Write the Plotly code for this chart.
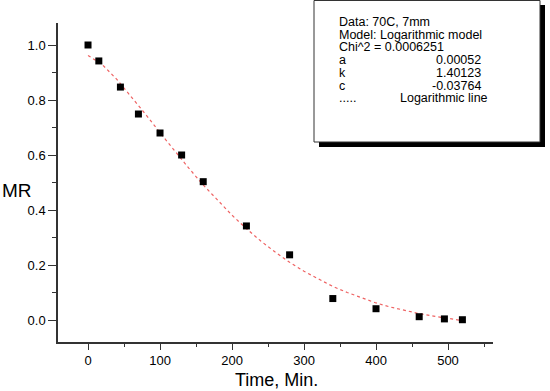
import plotly.graph_objects as go

# Data
time_min = [0, 15, 45, 70, 100, 130, 160, 220, 280, 340, 400, 460, 495, 520]
mr_values = [1.0, 0.942, 0.847, 0.749, 0.68, 0.60, 0.503, 0.342, 0.237, 0.078, 0.041, 0.012, 0.004, 0.001]

fit_time = [0, 20, 40, 60, 80, 100, 120, 140, 160, 180, 200, 220, 240, 260, 280,
            300, 320, 340, 360, 380, 400, 420, 440, 460, 480, 500, 520]
fit_mr = [0.962, 0.928, 0.875, 0.813, 0.748, 0.681, 0.615, 0.552, 0.491, 0.434, 0.381,
          0.332, 0.287, 0.247, 0.210, 0.177, 0.148, 0.122, 0.100, 0.080, 0.062, 0.047,
          0.034, 0.023, 0.014, 0.005, -0.002]

x_ticks = [0, 100, 200, 300, 400, 500]
y_ticks = [0.0, 0.2, 0.4, 0.6, 0.8, 1.0]

legend_left = ["Data: 70C, 7mm", "Model: Logarithmic model", "Chi^2 = 0.0006251", "a", "k", "c", "....."]
legend_right = ["", "", "", "0.00052", "1.40123", "-0.03764", "Logarithmic line"]

W, H = 550, 391
L, R, T, B = 58, 57, 23, 49
PW, PH = W - L - R, H - T - B

def px(x):
    return (x - L) / PW

def py(y):
    return (H - B - y) / PH

fig = go.Figure()
fig.add_trace(go.Scatter(x=fit_time, y=fit_mr, mode="lines",
                         line=dict(color="rgba(235,70,70,0.85)", width=1.2, dash="dot"),
                         showlegend=False, hoverinfo="skip"))
fig.add_trace(go.Scatter(x=time_min, y=mr_values, mode="markers",
                         marker=dict(symbol="square", size=7, color="black"),
                         showlegend=False))

axis_common = dict(showgrid=False, zeroline=False, showline=True, linecolor="#333333",
                   linewidth=1.5, ticks="outside", tickcolor="#333333", tickwidth=1.2,
                   tickfont=dict(family="Liberation Sans, Arial", size=13, color="black"),
                   mirror=False, automargin=False)

fig.update_xaxes(range=[-41.7, 562.5], tickvals=x_ticks, ticklen=6,
                 minor=dict(dtick=50, tick0=0, ticklen=3, ticks="outside", tickcolor="#333333", tickwidth=1.2),
                 **axis_common)
fig.update_yaxes(range=[-0.08, 1.08], tickvals=y_ticks, ticktext=["%.1f" % v for v in y_ticks],
                 ticklen=8,
                 minor=dict(dtick=0.1, tick0=0, ticklen=4, ticks="outside", tickcolor="#333333", tickwidth=1.2),
                 **axis_common)

shapes = []
# shadow
shapes.append(dict(type="rect", xref="paper", yref="paper",
                   x0=px(319), x1=px(545), y0=py(5), y1=py(147),
                   fillcolor="black", line=dict(width=0), layer="above"))
# box
shapes.append(dict(type="rect", xref="paper", yref="paper",
                   x0=px(314), x1=px(540), y0=py(0.5), y1=py(142),
                   fillcolor="white", line=dict(color="#333333", width=1), layer="above"))

annotations = []
font = dict(family="Liberation Sans, Arial", size=12.5, color="black")
y0 = 22
dy = 12.7
for i, (lt, rt) in enumerate(zip(legend_left, legend_right)):
    yy = y0 + i * dy
    if lt:
        annotations.append(dict(x=px(337), y=py(yy), xref="paper", yref="paper", text=lt,
                                showarrow=False, xanchor="left", yanchor="middle", font=font))
    if rt:
        if i == 6:
            annotations.append(dict(x=px(398), y=py(yy), xref="paper", yref="paper", text=rt,
                                    showarrow=False, xanchor="left", yanchor="middle", font=font))
        else:
            annotations.append(dict(x=px(483), y=py(yy), xref="paper", yref="paper", text=rt,
                                    showarrow=False, xanchor="right", yanchor="middle", font=font))

annotations.append(dict(x=px(0), y=py(190), xref="paper", yref="paper", text="MR",
                        showarrow=False, xanchor="left", yanchor="middle",
                        font=dict(family="Liberation Sans, Arial", size=19, color="black")))
annotations.append(dict(x=px(276), y=py(380), xref="paper", yref="paper", text="Time, Min.",
                        showarrow=False, xanchor="center", yanchor="middle",
                        font=dict(family="Liberation Sans, Arial", size=18, color="black")))

fig.update_layout(width=W, height=H, margin=dict(l=L, r=R, t=T, b=B, autoexpand=False),
                  paper_bgcolor="white", plot_bgcolor="white",
                  shapes=shapes, annotations=annotations)

fig.write_html("out.html", config={"displayModeBar": False},
               post_script="document.body.style.margin='0px';document.body.style.overflow='hidden';")
